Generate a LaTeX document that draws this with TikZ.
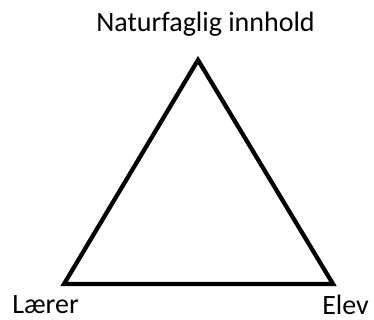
\documentclass[tikz,border=0pt]{standalone}
\usepackage{fontspec}
\setmainfont{Carlito}
\usetikzlibrary{positioning}

\begin{document}
\begin{tikzpicture}[x=0.75pt, y=-0.75pt,
  lbl/.style={font=\fontsize{21}{25}\selectfont, inner sep=0pt, anchor=base},
  side/.style={line width=3.2pt, line join=miter}]
\useasboundingbox (0,0) rectangle (374,320);
\coordinate (top) at (198,60);
\coordinate (left) at (64,284);
\coordinate (right) at (333,284);
\draw[side] (top) -- (left) -- (right) -- cycle;
\node[lbl] (innhold) at (205.5,32) {Naturfaglig innhold};
\node[lbl, anchor=base west] (laerer) at (12,313) {Lærer};
\node[lbl, anchor=base west] (elev) at (322,314) {Elev};
\end{tikzpicture}
\end{document}
